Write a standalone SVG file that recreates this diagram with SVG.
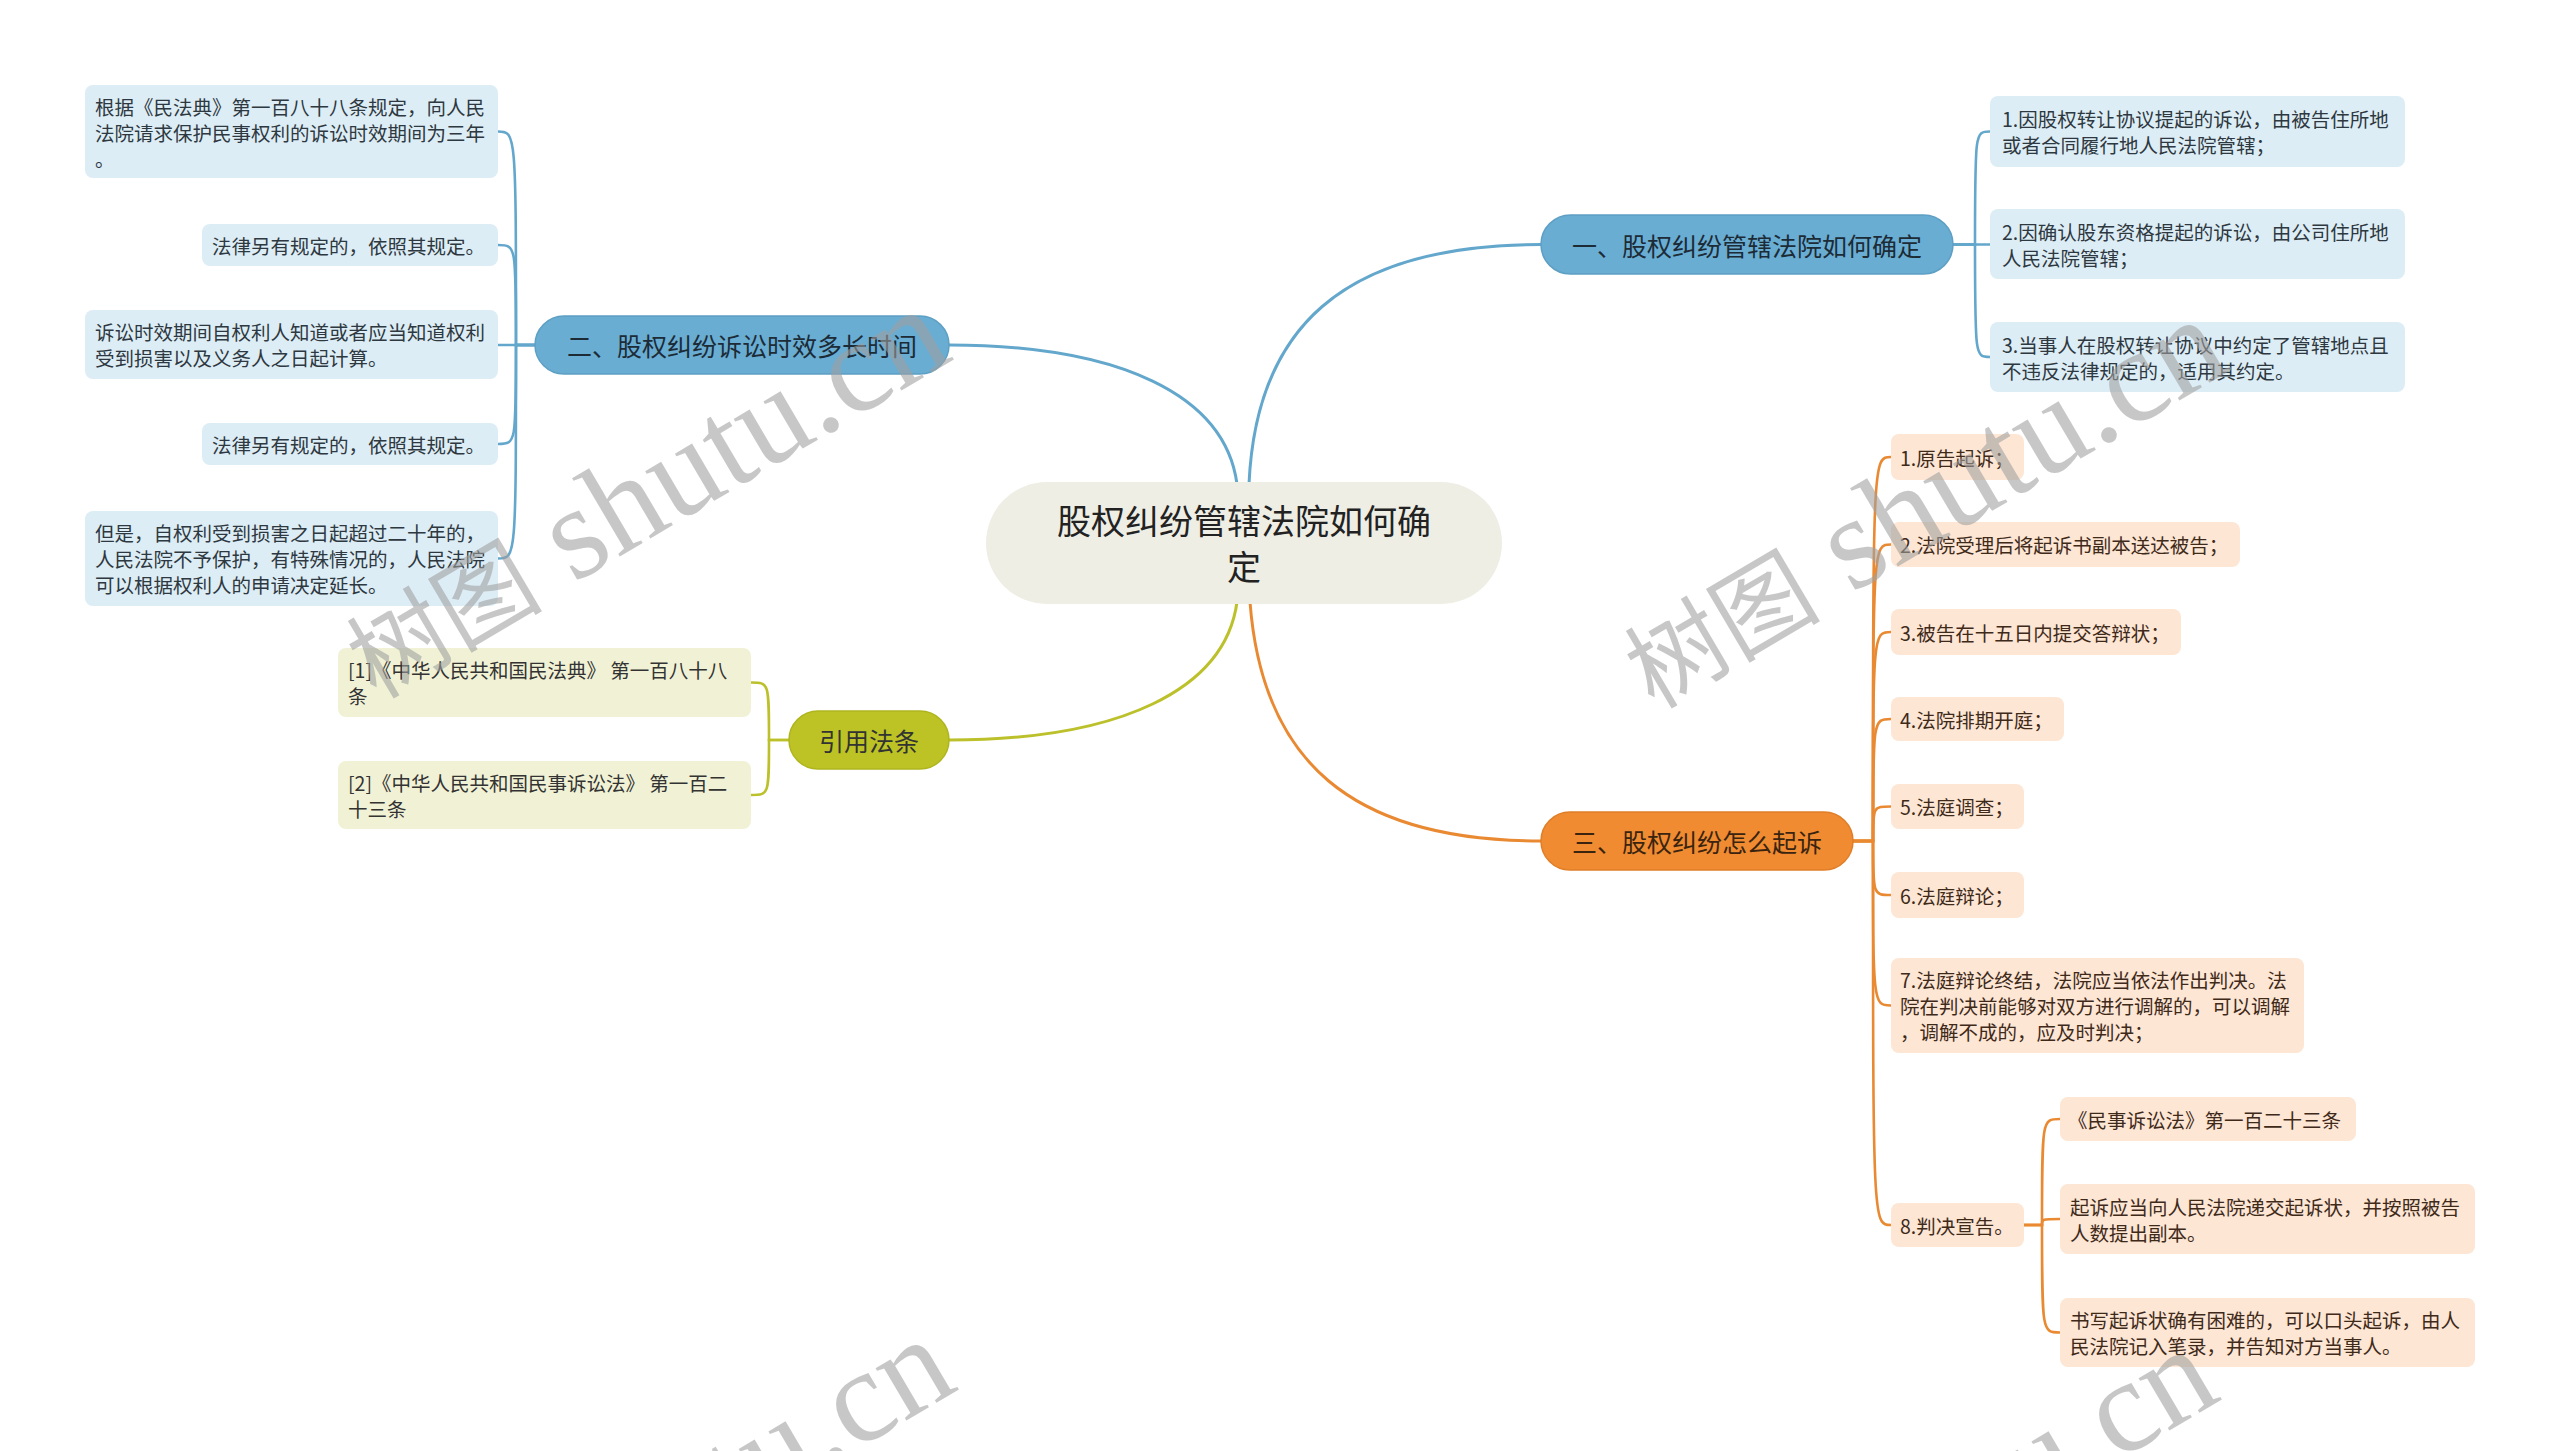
<svg xmlns="http://www.w3.org/2000/svg" width="2560" height="1451" viewBox="0 0 2560 1451">
<style>
.t{font-family:"Noto Sans CJK SC","Liberation Sans",sans-serif;dominant-baseline:central}
.leaf{font-size:19.5px}
.main{font-size:25px;text-anchor:middle}
.ctr{font-size:34px;text-anchor:middle;fill:#222}
.lb{fill:#ddedf6}.lbt{fill:#2e3840}
.pe{fill:#fde6d4}.pet{fill:#3f2a1a}
.yl{fill:#f1f2d5}.ylt{fill:#333}
.cb{fill:none;stroke:#64a7cc}
.co{fill:none;stroke:#e98a33}
.cy{fill:none;stroke:#bcc12b}
.m{stroke-width:3}
.s{stroke-width:2.6}
.wm{font-family:"Liberation Serif","Noto Sans CJK SC",serif;fill:#a0a0a0;opacity:.58}
</style>
<rect width="2560" height="1451" fill="#ffffff"/>
<g id="connectors">
<path class="cb m" d="M1249,484 C1256,330 1340,244.5 1541,244.5"/>
<path class="cb m" d="M1237,484 C1225,395 1120,345 949,345"/>
<path class="co m" d="M1250,602 C1262,760 1350,841 1541,841"/>
<path class="cy m" d="M1237,602 C1225,690 1120,740 949,740"/>
<path class="cb s" d="M1953,244.5 H1975 C1975,131.5 1975,131.5 1990,131.5"/>
<path class="cb s" d="M1953,244.5 H1990"/>
<path class="cb s" d="M1953,244.5 H1975 C1975,357 1975,357 1990,357"/>
<path class="cb s" d="M535,345 H516 C516,131.5 516,131.5 498,131.5"/>
<path class="cb s" d="M535,345 H516 C516,245 516,245 498,245"/>
<path class="cb s" d="M535,345 H498"/>
<path class="cb s" d="M535,345 H516 C516,444 516,444 498,444"/>
<path class="cb s" d="M535,345 H516 C516,558.5 516,558.5 498,558.5"/>
<path class="cy s" d="M789,740 H769 C769,682.5 769,682.5 751,682.5"/>
<path class="cy s" d="M789,740 H769 C769,795 769,795 751,795"/>
<path class="co s" d="M1853,841 H1873 C1873,457 1873,457 1891,457"/>
<path class="co s" d="M1853,841 H1873 C1873,544.5 1873,544.5 1891,544.5"/>
<path class="co s" d="M1853,841 H1873 C1873,632 1873,632 1891,632"/>
<path class="co s" d="M1853,841 H1873 C1873,719 1873,719 1891,719"/>
<path class="co s" d="M1853,841 H1873 C1873,806.5 1873,806.5 1891,806.5"/>
<path class="co s" d="M1853,841 H1873 C1873,895 1873,895 1891,895"/>
<path class="co s" d="M1853,841 H1873 C1873,1005.5 1873,1005.5 1891,1005.5"/>
<path class="co s" d="M1853,841 H1873 C1873,1225 1873,1225 1891,1225"/>
<path class="co s" d="M2024,1225 H2042 C2042,1119 2042,1119 2060,1119"/>
<path class="co s" d="M2024,1225 H2042 C2042,1219 2042,1219 2060,1219"/>
<path class="co s" d="M2024,1225 H2042 C2042,1332.5 2042,1332.5 2060,1332.5"/>
</g>
<g id="root">
<rect x="986" y="482" width="516" height="122" rx="61" fill="#eeeee5"/>
<text class="t ctr" x="1244" y="519">股权纠纷管辖法院如何确</text>
<text class="t ctr" x="1244" y="565">定</text>
</g>
<g id="b1">
<rect x="1541" y="215" width="412" height="59" rx="29.5" fill="#69add3" stroke="#5e9fc4" stroke-width="1.5"/>
<text class="t main" x="1747" y="244.5" fill="#1c2b36">一、股权纠纷管辖法院如何确定</text>
</g>
<g id="b2">
<rect x="535" y="316" width="414" height="58" rx="29" fill="#69add3" stroke="#5e9fc4" stroke-width="1.5"/>
<text class="t main" x="742" y="345" fill="#1c2b36">二、股权纠纷诉讼时效多长时间</text>
</g>
<g id="b3">
<rect x="1541" y="812" width="312" height="58" rx="29" fill="#f08b31" stroke="#e07e28" stroke-width="1.5"/>
<text class="t main" x="1697" y="841" fill="#3a2410">三、股权纠纷怎么起诉</text>
</g>
<g id="b4">
<rect x="789" y="711" width="160" height="58" rx="29" fill="#bdc324" stroke="#afb51e" stroke-width="1.5"/>
<text class="t main" x="869" y="740" fill="#333">引用法条</text>
</g>
<g id="r1"><rect class="lb" x="1990" y="96" width="415" height="71" rx="8"/>
<text class="t leaf lbt" x="2002" y="118.5">1.因股权转让协议提起的诉讼，由被告住所地</text>
<text class="t leaf lbt" x="2002" y="144.5">或者合同履行地人民法院管辖；</text></g>
<g id="r2"><rect class="lb" x="1990" y="209" width="415" height="70" rx="8"/>
<text class="t leaf lbt" x="2002" y="231">2.因确认股东资格提起的诉讼，由公司住所地</text>
<text class="t leaf lbt" x="2002" y="257">人民法院管辖；</text></g>
<g id="r3"><rect class="lb" x="1990" y="322" width="415" height="70" rx="8"/>
<text class="t leaf lbt" x="2002" y="344">3.当事人在股权转让协议中约定了管辖地点且</text>
<text class="t leaf lbt" x="2002" y="370">不违反法律规定的，适用其约定。</text></g>
<g id="l1"><rect class="lb" x="85" y="85" width="413" height="93" rx="8"/>
<text class="t leaf lbt" x="95" y="106">根据《民法典》第一百八十八条规定，向人民</text>
<text class="t leaf lbt" x="95" y="132">法院请求保护民事权利的诉讼时效期间为三年</text>
<text class="t leaf lbt" x="95" y="158">。</text></g>
<g id="l2"><rect class="lb" x="202" y="224" width="296" height="42" rx="8"/>
<text class="t leaf lbt" x="212" y="245">法律另有规定的，依照其规定。</text></g>
<g id="l3"><rect class="lb" x="85" y="310" width="413" height="69" rx="8"/>
<text class="t leaf lbt" x="95" y="331">诉讼时效期间自权利人知道或者应当知道权利</text>
<text class="t leaf lbt" x="95" y="357">受到损害以及义务人之日起计算。</text></g>
<g id="l4"><rect class="lb" x="202" y="423" width="296" height="42" rx="8"/>
<text class="t leaf lbt" x="212" y="444">法律另有规定的，依照其规定。</text></g>
<g id="l5"><rect class="lb" x="85" y="511" width="413" height="95" rx="8"/>
<text class="t leaf lbt" x="95" y="532">但是，自权利受到损害之日起超过二十年的，</text>
<text class="t leaf lbt" x="95" y="558">人民法院不予保护，有特殊情况的，人民法院</text>
<text class="t leaf lbt" x="95" y="584">可以根据权利人的申请决定延长。</text></g>
<g id="y1"><rect class="yl" x="338" y="648" width="413" height="69" rx="8"/>
<text class="t leaf ylt" x="348" y="669.5">[1]《中华人民共和国民法典》 第一百八十八</text>
<text class="t leaf ylt" x="348" y="695.5">条</text></g>
<g id="y2"><rect class="yl" x="338" y="761" width="413" height="68" rx="8"/>
<text class="t leaf ylt" x="348" y="782">[2]《中华人民共和国民事诉讼法》 第一百二</text>
<text class="t leaf ylt" x="348" y="808">十三条</text></g>
<g id="o1"><rect class="pe" x="1891" y="434" width="133" height="46" rx="8"/>
<text class="t leaf pet" x="1900" y="457">1.原告起诉；</text></g>
<g id="o2"><rect class="pe" x="1891" y="522" width="349" height="45" rx="8"/>
<text class="t leaf pet" x="1900" y="544.5">2.法院受理后将起诉书副本送达被告；</text></g>
<g id="o3"><rect class="pe" x="1891" y="609" width="290" height="46" rx="8"/>
<text class="t leaf pet" x="1900" y="632">3.被告在十五日内提交答辩状；</text></g>
<g id="o4"><rect class="pe" x="1891" y="697" width="173" height="44" rx="8"/>
<text class="t leaf pet" x="1900" y="719">4.法院排期开庭；</text></g>
<g id="o5"><rect class="pe" x="1891" y="784" width="133" height="45" rx="8"/>
<text class="t leaf pet" x="1900" y="806.5">5.法庭调查；</text></g>
<g id="o6"><rect class="pe" x="1891" y="872" width="133" height="46" rx="8"/>
<text class="t leaf pet" x="1900" y="895">6.法庭辩论；</text></g>
<g id="o7"><rect class="pe" x="1891" y="958" width="413" height="95" rx="8"/>
<text class="t leaf pet" x="1900" y="979.5">7.法庭辩论终结，法院应当依法作出判决。法</text>
<text class="t leaf pet" x="1900" y="1005.5">院在判决前能够对双方进行调解的，可以调解</text>
<text class="t leaf pet" x="1900" y="1031.5">，调解不成的，应及时判决；</text></g>
<g id="o8"><rect class="pe" x="1891" y="1203" width="133" height="44" rx="8"/>
<text class="t leaf pet" x="1900" y="1225">8.判决宣告。</text></g>
<g id="p1"><rect class="pe" x="2060" y="1097" width="296" height="44" rx="8"/>
<text class="t leaf pet" x="2068" y="1119">《民事诉讼法》第一百二十三条</text></g>
<g id="p2"><rect class="pe" x="2060" y="1184" width="415" height="70" rx="8"/>
<text class="t leaf pet" x="2070" y="1206">起诉应当向人民法院递交起诉状，并按照被告</text>
<text class="t leaf pet" x="2070" y="1232">人数提出副本。</text></g>
<g id="p3"><rect class="pe" x="2060" y="1298" width="415" height="69" rx="8"/>
<text class="t leaf pet" x="2070" y="1319.5">书写起诉状确有困难的，可以口头起诉，由人</text>
<text class="t leaf pet" x="2070" y="1345.5">民法院记入笔录，并告知对方当事人。</text></g>
<g id="watermarks">
<text class="wm" transform="translate(376,700) rotate(-30.5)"><tspan font-size="98">树图</tspan><tspan font-size="132"> shutu.cn</tspan></text>
<text class="wm" transform="translate(1654,710) rotate(-30.5)"><tspan font-size="98">树图</tspan><tspan font-size="132"> shutu.cn</tspan></text>
<text class="wm" transform="translate(381,1730) rotate(-30.5)"><tspan font-size="98">树图</tspan><tspan font-size="132"> shutu.cn</tspan></text>
<text class="wm" transform="translate(1644,1740) rotate(-30.5)"><tspan font-size="98">树图</tspan><tspan font-size="132"> shutu.cn</tspan></text>
</g>
</svg>
